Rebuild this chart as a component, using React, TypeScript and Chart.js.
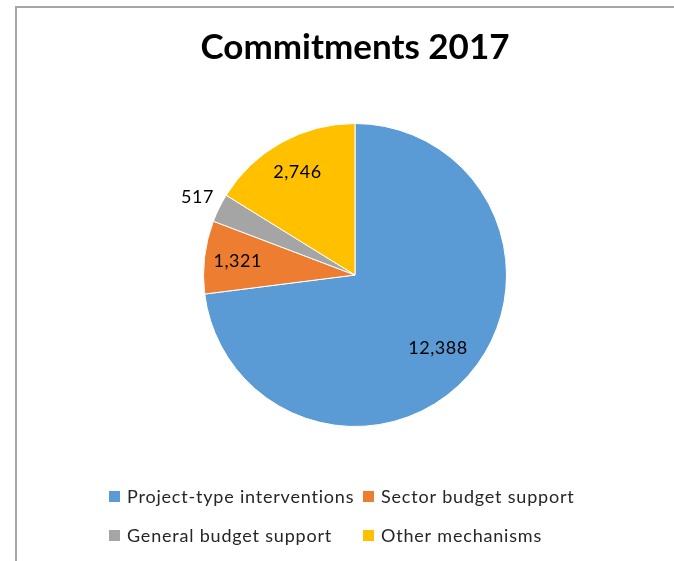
import React, { useEffect, useRef } from "react";
import { Chart, registerables } from "chart.js";

Chart.register(...registerables);

const categories = [
  "Project-type interventions",
  "Sector budget support",
  "General budget support",
  "Other mechanisms",
];
const values = [12388, 1321, 517, 2746];
const colors = ["#5B9BD5", "#ED7D31", "#A5A5A5", "#FFC000"];
const titleText = "Commitments 2017";

const FONT = "Lato, 'Open Sans', sans-serif";

const decorPlugin = {
  id: "decor",
  beforeDraw(chart: any) {
    const ctx = chart.ctx;
    ctx.save();
    ctx.strokeStyle = "#A6A6A6";
    ctx.lineWidth = 2;
    ctx.beginPath();
    ctx.moveTo(16, 600);
    ctx.lineTo(16, 7);
    ctx.lineTo(700, 7);
    ctx.stroke();
    ctx.restore();
  },
  afterDraw(chart: any) {
    const ctx = chart.ctx;
    ctx.save();
    // title
    ctx.fillStyle = "#000";
    ctx.font = `bold 35px ${FONT}`;
    ctx.textAlign = "center";
    ctx.textBaseline = "middle";
    (ctx as any).letterSpacing = "0px";
    ctx.fillText(titleText, 355, 48);

    // data labels
    const meta = chart.getDatasetMeta(0);
    const data = chart.data.datasets[0].data as number[];
    const total = data.reduce((a, b) => a + b, 0);
    ctx.font = `18px ${FONT}`;
    (ctx as any).letterSpacing = "0.5px";
    meta.data.forEach((arc: any, i: number) => {
      const p = arc.getProps(["x", "y", "startAngle", "endAngle", "outerRadius"], true);
      const mid = (p.startAngle + p.endAngle) / 2;
      const frac = data[i] / total;
      const r = frac < 0.05 ? p.outerRadius * 1.16 : frac > 0.5 ? p.outerRadius * 0.73 : p.outerRadius * 0.78;
      const x = p.x + Math.cos(mid) * r;
      const y = p.y + Math.sin(mid) * r;
      ctx.fillStyle = "#000";
      ctx.fillText(data[i].toLocaleString("en-US"), x, y);
    });

    // legend (grid with 2 columns)
    const labels = chart.data.labels as string[];
    const colX = [109, 363];
    const rowY = [497, 536];
    ctx.font = `18px ${FONT}`;
    (ctx as any).letterSpacing = "0.8px";
    ctx.textAlign = "left";
    labels.forEach((lab, i) => {
      const cx = colX[i % 2];
      const cy = rowY[Math.floor(i / 2)];
      ctx.fillStyle = colors[i];
      ctx.fillRect(cx, cy - 6, 11, 11);
      ctx.fillStyle = "#262626";
      ctx.fillText(lab, cx + 18, cy);
    });
    ctx.restore();
  },
};

export default function App() {
  const ref = useRef<HTMLCanvasElement>(null);
  useEffect(() => {
    if (!ref.current) return;
    const chart = new Chart(ref.current, {
      type: "pie",
      data: {
        labels: categories,
        datasets: [
          {
            data: values,
            backgroundColor: colors,
            borderColor: "#FFFFFF",
            borderWidth: 1,
          },
        ],
      },
      options: {
        animation: false,
        responsive: false,
        layout: { padding: { left: 203, right: 167, top: 123, bottom: 134 } },
        plugins: {
          legend: { display: false },
          title: { display: false },
          tooltip: { enabled: false },
        },
      },
      plugins: [decorPlugin],
    });
    return () => chart.destroy();
  }, []);
  return (
    <div style={{ position: "fixed", left: 0, top: 0, width: 674, height: 561, background: "#fff" }}>
      <canvas ref={ref} width={674} height={561} style={{ display: "block" }} />
    </div>
  );
}
